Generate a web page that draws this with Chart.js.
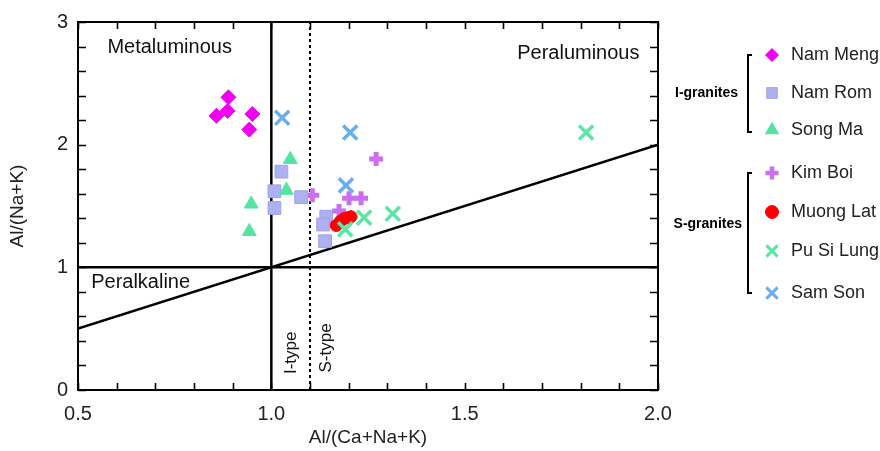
<!DOCTYPE html>
<html lang="en">
<head>
    <meta charset="UTF-8">
    <title>A/NK vs A/CNK</title>
    <script src="https://cdn.jsdelivr.net/npm/chart.js"></script>
    <style>
        html, body { margin: 0; padding: 0; background: #fff; }
        .chart-box { width: 880px; height: 451px; position: relative; }
    </style>
</head>
<body>
    <div class="chart-box"><canvas id="acnkChart"></canvas></div>

    <script>
        // sample values [A/CNK, A/NK]
        const namMeng = [[0.858, 2.235], [0.889, 2.386], [0.887, 2.275], [0.951, 2.250], [0.943, 2.123]];
        const namRom = [[1.026, 1.780], [1.008, 1.620], [1.008, 1.484], [1.077, 1.572], [1.142, 1.413], [1.134, 1.349], [1.139, 1.213]];
        const songMa = [[1.049, 1.880], [1.039, 1.628], [0.948, 1.516], [0.943, 1.293]];
        const kimBoi = [[1.271, 1.883], [1.106, 1.588], [1.201, 1.564], [1.232, 1.564], [1.175, 1.460]];
        const muongLat = [[1.168, 1.341], [1.178, 1.373], [1.188, 1.397], [1.198, 1.405], [1.206, 1.413]];
        const puSiLung = [[1.240, 1.405], [1.314, 1.437], [1.191, 1.309], [1.814, 2.099]];
        const samSon = [[1.028, 2.219], [1.204, 2.099], [1.193, 1.668]];

        // field boundaries
        const metaLine = [[1.0, 0], [1.0, 3]];
        const alkLine = [[0.5, 1], [2.0, 1]];
        const diagLine = [[0.5, 0.5], [2.0, 2.0]];
        const typeLine = [[1.1, 0], [1.1, 3]];

        const xTicks = [0.5, 0.6, 0.7, 0.8, 0.9, 1.0, 1.1, 1.2, 1.3, 1.4, 1.5, 1.6, 1.7, 1.8, 1.9, 2.0];
        const xLabels = ['0.5', '', '', '', '', '1.0', '', '', '', '', '1.5', '', '', '', '', '2.0'];
        const yTicks = [0, 0.2, 0.4, 0.6, 0.8, 1, 1.2, 1.4, 1.6, 1.8, 2, 2.2, 2.4, 2.6, 2.8, 3];
        const yLabels = ['0', '', '', '', '', '1', '', '', '', '', '2', '', '', '', '', '3'];

        const FONT = '"Liberation Sans", Arial, sans-serif';
        const toXY = arr => arr.map(p => ({ x: p[0], y: p[1] }));

        function series(label, pts, style, color, radius, extra) {
            return Object.assign({
                label: label,
                data: toXY(pts),
                showLine: false,
                pointStyle: style,
                pointRadius: radius,
                pointHoverRadius: radius,
                pointBackgroundColor: color,
                pointBorderColor: color,
                pointBorderWidth: 1,
                order: 1
            }, extra || {});
        }

        function boundary(pts, width, dash) {
            return {
                data: toXY(pts),
                showLine: true,
                borderColor: '#000',
                borderWidth: width,
                borderDash: dash || [],
                pointRadius: 0,
                fill: false,
                order: 10
            };
        }

        const legendItems = [
            { label: 'Nam Meng', style: 'rectRot', color: '#f000f0', border: '#f000f0', r: 6.5, bw: 1 },
            { label: 'Nam Rom', style: 'rect', color: '#adb1f2', border: '#9ea2e6', r: 7.5, bw: 1 },
            { label: 'Song Ma', style: 'triangle', color: '#55e3a2', border: '#55e3a2', r: 7.5, bw: 1 },
            { label: 'Kim Boi', style: 'cross', color: '#c870f0', border: '#c870f0', r: 6.5, bw: 4.5 },
            { label: 'Muong Lat', style: 'circle', color: '#ff0000', border: '#ff0000', r: 6.5, bw: 1 },
            { label: 'Pu Si Lung', style: 'crossRot', color: '#5ce6a6', border: '#5ce6a6', r: 8, bw: 3 },
            { label: 'Sam Son', style: 'crossRot', color: '#6aaeea', border: '#6aaeea', r: 8, bw: 3 }
        ];
        const legendY = [55, 93, 130, 173, 212, 251, 293];

        const framePlugin = {
            id: 'frame',
            afterDatasetsDraw(chart) {
                const ctx = chart.ctx;
                const xs = chart.scales.x, ys = chart.scales.y;
                const a = chart.chartArea;
                ctx.save();
                ctx.strokeStyle = '#000';
                ctx.lineWidth = 2;
                ctx.strokeRect(a.left, a.top, a.right - a.left, a.bottom - a.top);
                ctx.lineWidth = 1.6;
                ctx.beginPath();
                xTicks.forEach(v => {
                    const px = Math.round(xs.getPixelForValue(v)) + 0.5;
                    ctx.moveTo(px, a.bottom); ctx.lineTo(px, a.bottom - 7);
                    ctx.moveTo(px, a.top); ctx.lineTo(px, a.top + 7);
                });
                yTicks.forEach(v => {
                    const py = Math.round(ys.getPixelForValue(v)) + 0.5;
                    ctx.moveTo(a.left, py); ctx.lineTo(a.left + 8, py);
                    ctx.moveTo(a.right, py); ctx.lineTo(a.right - 8, py);
                });
                ctx.stroke();

                // field names
                ctx.fillStyle = '#111';
                ctx.font = '20px ' + FONT;
                ctx.textAlign = 'center';
                ctx.textBaseline = 'middle';
                ctx.fillText('Metaluminous', xs.getPixelForValue(0.737), ys.getPixelForValue(2.79));
                ctx.fillText('Peraluminous', xs.getPixelForValue(1.794), ys.getPixelForValue(2.74));
                ctx.fillText('Peralkaline', xs.getPixelForValue(0.662), ys.getPixelForValue(0.878));
                ctx.font = '17px ' + FONT;
                [['I-type', 1.052, 0.303], ['S-type', 1.142, 0.343]].forEach(t => {
                    ctx.save();
                    ctx.translate(xs.getPixelForValue(t[1]), ys.getPixelForValue(t[2]));
                    ctx.rotate(-Math.PI / 2);
                    ctx.fillText(t[0], 0, 0);
                    ctx.restore();
                });
                ctx.restore();
            },
            afterDraw(chart) {
                const ctx = chart.ctx;
                ctx.save();
                legendItems.forEach((it, i) => {
                    ctx.fillStyle = it.color;
                    ctx.strokeStyle = it.border;
                    ctx.lineWidth = it.bw;
                    Chart.helpers.drawPoint(ctx, { pointStyle: it.style, radius: it.r, borderWidth: it.bw, rotation: 0 }, 772, legendY[i]);
                    ctx.fillStyle = '#222';
                    ctx.font = '18px ' + FONT;
                    ctx.textAlign = 'left';
                    ctx.textBaseline = 'middle';
                    ctx.fillText(it.label, 791, legendY[i]);
                });
                // group brackets
                ctx.strokeStyle = '#000';
                ctx.lineWidth = 2;
                [[55, 132], [173, 293]].forEach(b => {
                    ctx.beginPath();
                    ctx.moveTo(752, b[0]); ctx.lineTo(748, b[0]);
                    ctx.lineTo(748, b[1]); ctx.lineTo(752, b[1]);
                    ctx.stroke();
                });
                ctx.fillStyle = '#000';
                ctx.font = 'bold 14px ' + FONT;
                ctx.textAlign = 'right';
                ctx.fillText('I-granites', 738, 93);
                ctx.fillText('S-granites', 742, 224);
                ctx.restore();
            }
        };

        const ctx = document.getElementById('acnkChart').getContext('2d');
        const acnkChart = new Chart(ctx, {
            type: 'scatter',
            data: {
                datasets: [
                    boundary(metaLine, 2.5),
                    boundary(alkLine, 2.5),
                    boundary(diagLine, 2.5),
                    boundary(typeLine, 2, [3, 3]),
                    series('Kim Boi', kimBoi, 'cross', '#c870f0', 7, { pointBorderWidth: 5, order: 6 }),
                    series('Nam Rom', namRom, 'rect', '#adb1f2', 9, { pointBorderColor: '#9ea2e6', order: 5 }),
                    series('Song Ma', songMa, 'triangle', '#55e3a2', 8, { order: 4 }),
                    series('Nam Meng', namMeng, 'rectRot', '#f000f0', 7.5, { order: 4 }),
                    series('Muong Lat', muongLat, 'circle', '#ff0000', 6, { order: 3 }),
                    series('Pu Si Lung', puSiLung, 'crossRot', '#5ce6a6', 10, { pointBorderWidth: 3.5, order: 2 }),
                    series('Sam Son', samSon, 'crossRot', '#6aaeea', 10, { pointBorderWidth: 3.5, order: 2 })
                ]
            },
            options: {
                responsive: true,
                maintainAspectRatio: false,
                animation: false,
                layout: { padding: { top: 14, right: 222, left: 0, bottom: 0 } },
                plugins: {
                    legend: { display: false },
                    tooltip: { enabled: false }
                },
                scales: {
                    x: {
                        type: 'linear',
                        min: 0.5,
                        max: 2.0,
                        afterBuildTicks: s => { s.ticks = xTicks.map(v => ({ value: v })); },
                        afterFit: s => { s.height = 61; },
                        grid: { display: false, drawTicks: false },
                        border: { display: false },
                        ticks: {
                            autoSkip: false,
                            maxRotation: 0,
                            padding: 12,
                            color: '#222',
                            font: { family: FONT, size: 20 },
                            callback: (v, i) => xLabels[i]
                        },
                        title: {
                            display: true,
                            text: 'Al/(Ca+Na+K)',
                            color: '#222',
                            font: { family: FONT, size: 19 },
                            padding: { top: 0, bottom: 2 }
                        }
                    },
                    y: {
                        type: 'linear',
                        min: 0,
                        max: 3,
                        afterBuildTicks: s => { s.ticks = yTicks.map(v => ({ value: v })); },
                        afterFit: s => { s.width = 78; },
                        grid: { display: false, drawTicks: false },
                        border: { display: false },
                        ticks: {
                            autoSkip: false,
                            padding: 10,
                            color: '#222',
                            font: { family: FONT, size: 20 },
                            callback: (v, i) => yLabels[i]
                        },
                        title: {
                            display: true,
                            text: 'Al/(Na+K)',
                            color: '#222',
                            font: { family: FONT, size: 19 },
                            padding: { top: 6, bottom: 4 }
                        }
                    }
                }
            },
            plugins: [framePlugin]
        });
    </script>
</body>
</html>
